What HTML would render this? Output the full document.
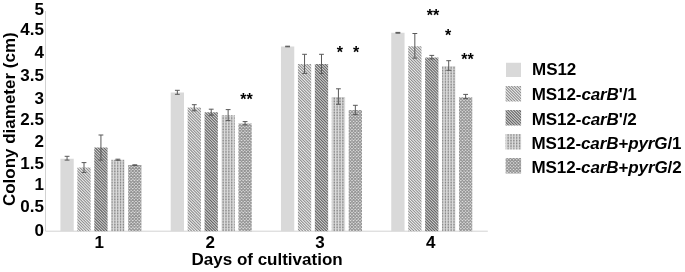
<!DOCTYPE html>
<html lang="en"><head><meta charset="utf-8"><title>Colony diameter chart</title>
<style>
html,body{margin:0;padding:0;background:#fff;}
body{width:685px;height:272px;overflow:hidden;}
svg{display:block;}
text{font-family:"Liberation Sans",sans-serif;font-weight:bold;fill:#000;}
.i{font-style:italic;}
</style></head><body>
<svg width="685" height="272" viewBox="0 0 685 272">
<defs>
<clipPath id="c2"><path d="M77.35,167.4h13.3v63.8h-13.3zM187.63,107.6h13.3v123.6h-13.3zM297.91,64.1h13.3v167.1h-13.3zM408.19,46.3h13.3v184.9h-13.3zM505.6,86.1h15.5v15.5h-15.5z"/></clipPath>
<clipPath id="c3"><path d="M94.28,147.6h13.3v83.6h-13.3zM204.56,112.3h13.3v118.9h-13.3zM314.84,64.1h13.3v167.1h-13.3zM425.12,57.4h13.3v173.8h-13.3zM505.6,110.1h15.5v15.5h-15.5z"/></clipPath>
<clipPath id="c4"><path d="M111.21,159.7h13.3v71.5h-13.3zM221.49,115.2h13.3v116h-13.3zM331.77,96.9h13.3v134.3h-13.3zM442.05,66.2h13.3v165h-13.3zM505.6,134.1h15.5v15.5h-15.5z"/></clipPath>
<clipPath id="c5"><path d="M128.14,165.1h13.3v66.1h-13.3zM238.42,123.5h13.3v107.7h-13.3zM348.7,109.9h13.3v121.3h-13.3zM458.98,97.2h13.3v134h-13.3zM505.6,158.1h15.5v15.5h-15.5z"/></clipPath>
<filter id="bl" x="0" y="0" width="1" height="1" filterUnits="objectBoundingBox"><feGaussianBlur stdDeviation="0.5"/></filter>
</defs>
<rect width="685" height="272" fill="#fff"/>

<path d="M45.5,11V231.2H487.8" fill="none" stroke="#d2d2d2" stroke-width="1"/>
<path d="M60.42,158.7h13.3v72.5h-13.3zM170.7,92.5h13.3v138.7h-13.3zM280.98,46.5h13.3v184.7h-13.3zM391.26,32.8h13.3v198.4h-13.3zM506,62.8h15v14.3h-15z" fill="#d9d9d9"/>
<g clip-path="url(#c2)" filter="url(#bl)"><rect x="55" y="28" width="470" height="206" fill="#f2f2f2"/><path d="M-153.85,28l206,206M-151,28l206,206M-148.15,28l206,206M-145.3,28l206,206M-142.45,28l206,206M-139.6,28l206,206M-136.75,28l206,206M-133.9,28l206,206M-131.05,28l206,206M-128.2,28l206,206M-125.35,28l206,206M-122.5,28l206,206M-119.65,28l206,206M-116.8,28l206,206M-113.95,28l206,206M-111.1,28l206,206M-108.25,28l206,206M-105.4,28l206,206M-102.55,28l206,206M-99.7,28l206,206M-96.85,28l206,206M-94,28l206,206M-91.15,28l206,206M-88.3,28l206,206M-85.45,28l206,206M-82.6,28l206,206M-79.75,28l206,206M-76.9,28l206,206M-74.05,28l206,206M-71.2,28l206,206M-68.35,28l206,206M-65.5,28l206,206M-62.65,28l206,206M-59.8,28l206,206M-56.95,28l206,206M-54.1,28l206,206M-51.25,28l206,206M-48.4,28l206,206M-45.55,28l206,206M-42.7,28l206,206M-39.85,28l206,206M-37,28l206,206M-34.15,28l206,206M-31.3,28l206,206M-28.45,28l206,206M-25.6,28l206,206M-22.75,28l206,206M-19.9,28l206,206M-17.05,28l206,206M-14.2,28l206,206M-11.35,28l206,206M-8.5,28l206,206M-5.65,28l206,206M-2.8,28l206,206M0.05,28l206,206M2.9,28l206,206M5.75,28l206,206M8.6,28l206,206M11.45,28l206,206M14.3,28l206,206M17.15,28l206,206M20,28l206,206M22.85,28l206,206M25.7,28l206,206M28.55,28l206,206M31.4,28l206,206M34.25,28l206,206M37.1,28l206,206M39.95,28l206,206M42.8,28l206,206M45.65,28l206,206M48.5,28l206,206M51.35,28l206,206M54.2,28l206,206M57.05,28l206,206M59.9,28l206,206M62.75,28l206,206M65.6,28l206,206M68.45,28l206,206M71.3,28l206,206M74.15,28l206,206M77,28l206,206M79.85,28l206,206M82.7,28l206,206M85.55,28l206,206M88.4,28l206,206M91.25,28l206,206M94.1,28l206,206M96.95,28l206,206M99.8,28l206,206M102.65,28l206,206M105.5,28l206,206M108.35,28l206,206M111.2,28l206,206M114.05,28l206,206M116.9,28l206,206M119.75,28l206,206M122.6,28l206,206M125.45,28l206,206M128.3,28l206,206M131.15,28l206,206M134,28l206,206M136.85,28l206,206M139.7,28l206,206M142.55,28l206,206M145.4,28l206,206M148.25,28l206,206M151.1,28l206,206M153.95,28l206,206M156.8,28l206,206M159.65,28l206,206M162.5,28l206,206M165.35,28l206,206M168.2,28l206,206M171.05,28l206,206M173.9,28l206,206M176.75,28l206,206M179.6,28l206,206M182.45,28l206,206M185.3,28l206,206M188.15,28l206,206M191,28l206,206M193.85,28l206,206M196.7,28l206,206M199.55,28l206,206M202.4,28l206,206M205.25,28l206,206M208.1,28l206,206M210.95,28l206,206M213.8,28l206,206M216.65,28l206,206M219.5,28l206,206M222.35,28l206,206M225.2,28l206,206M228.05,28l206,206M230.9,28l206,206M233.75,28l206,206M236.6,28l206,206M239.45,28l206,206M242.3,28l206,206M245.15,28l206,206M248,28l206,206M250.85,28l206,206M253.7,28l206,206M256.55,28l206,206M259.4,28l206,206M262.25,28l206,206M265.1,28l206,206M267.95,28l206,206M270.8,28l206,206M273.65,28l206,206M276.5,28l206,206M279.35,28l206,206M282.2,28l206,206M285.05,28l206,206M287.9,28l206,206M290.75,28l206,206M293.6,28l206,206M296.45,28l206,206M299.3,28l206,206M302.15,28l206,206M305,28l206,206M307.85,28l206,206M310.7,28l206,206M313.55,28l206,206M316.4,28l206,206M319.25,28l206,206M322.1,28l206,206M324.95,28l206,206M327.8,28l206,206M330.65,28l206,206M333.5,28l206,206M336.35,28l206,206M339.2,28l206,206M342.05,28l206,206M344.9,28l206,206M347.75,28l206,206M350.6,28l206,206M353.45,28l206,206M356.3,28l206,206M359.15,28l206,206M362,28l206,206M364.85,28l206,206M367.7,28l206,206M370.55,28l206,206M373.4,28l206,206M376.25,28l206,206M379.1,28l206,206M381.95,28l206,206M384.8,28l206,206M387.65,28l206,206M390.5,28l206,206M393.35,28l206,206M396.2,28l206,206M399.05,28l206,206M401.9,28l206,206M404.75,28l206,206M407.6,28l206,206M410.45,28l206,206M413.3,28l206,206M416.15,28l206,206M419,28l206,206M421.85,28l206,206M424.7,28l206,206M427.55,28l206,206M430.4,28l206,206M433.25,28l206,206M436.1,28l206,206M438.95,28l206,206M441.8,28l206,206M444.65,28l206,206M447.5,28l206,206M450.35,28l206,206M453.2,28l206,206M456.05,28l206,206M458.9,28l206,206M461.75,28l206,206M464.6,28l206,206M467.45,28l206,206M470.3,28l206,206M473.15,28l206,206M476,28l206,206M478.85,28l206,206M481.7,28l206,206M484.55,28l206,206M487.4,28l206,206M490.25,28l206,206M493.1,28l206,206M495.95,28l206,206M498.8,28l206,206M501.65,28l206,206M504.5,28l206,206M507.35,28l206,206M510.2,28l206,206M513.05,28l206,206M515.9,28l206,206M518.75,28l206,206M521.6,28l206,206M524.45,28l206,206M527.3,28l206,206" stroke="#8a8a8a" stroke-width="1.05" fill="none"/></g>
<g clip-path="url(#c3)" filter="url(#bl)"><rect x="55" y="28" width="470" height="206" fill="#dedede"/><path d="M-152.85,28l206,206M-150,28l206,206M-147.15,28l206,206M-144.3,28l206,206M-141.45,28l206,206M-138.6,28l206,206M-135.75,28l206,206M-132.9,28l206,206M-130.05,28l206,206M-127.2,28l206,206M-124.35,28l206,206M-121.5,28l206,206M-118.65,28l206,206M-115.8,28l206,206M-112.95,28l206,206M-110.1,28l206,206M-107.25,28l206,206M-104.4,28l206,206M-101.55,28l206,206M-98.7,28l206,206M-95.85,28l206,206M-93,28l206,206M-90.15,28l206,206M-87.3,28l206,206M-84.45,28l206,206M-81.6,28l206,206M-78.75,28l206,206M-75.9,28l206,206M-73.05,28l206,206M-70.2,28l206,206M-67.35,28l206,206M-64.5,28l206,206M-61.65,28l206,206M-58.8,28l206,206M-55.95,28l206,206M-53.1,28l206,206M-50.25,28l206,206M-47.4,28l206,206M-44.55,28l206,206M-41.7,28l206,206M-38.85,28l206,206M-36,28l206,206M-33.15,28l206,206M-30.3,28l206,206M-27.45,28l206,206M-24.6,28l206,206M-21.75,28l206,206M-18.9,28l206,206M-16.05,28l206,206M-13.2,28l206,206M-10.35,28l206,206M-7.5,28l206,206M-4.65,28l206,206M-1.8,28l206,206M1.05,28l206,206M3.9,28l206,206M6.75,28l206,206M9.6,28l206,206M12.45,28l206,206M15.3,28l206,206M18.15,28l206,206M21,28l206,206M23.85,28l206,206M26.7,28l206,206M29.55,28l206,206M32.4,28l206,206M35.25,28l206,206M38.1,28l206,206M40.95,28l206,206M43.8,28l206,206M46.65,28l206,206M49.5,28l206,206M52.35,28l206,206M55.2,28l206,206M58.05,28l206,206M60.9,28l206,206M63.75,28l206,206M66.6,28l206,206M69.45,28l206,206M72.3,28l206,206M75.15,28l206,206M78,28l206,206M80.85,28l206,206M83.7,28l206,206M86.55,28l206,206M89.4,28l206,206M92.25,28l206,206M95.1,28l206,206M97.95,28l206,206M100.8,28l206,206M103.65,28l206,206M106.5,28l206,206M109.35,28l206,206M112.2,28l206,206M115.05,28l206,206M117.9,28l206,206M120.75,28l206,206M123.6,28l206,206M126.45,28l206,206M129.3,28l206,206M132.15,28l206,206M135,28l206,206M137.85,28l206,206M140.7,28l206,206M143.55,28l206,206M146.4,28l206,206M149.25,28l206,206M152.1,28l206,206M154.95,28l206,206M157.8,28l206,206M160.65,28l206,206M163.5,28l206,206M166.35,28l206,206M169.2,28l206,206M172.05,28l206,206M174.9,28l206,206M177.75,28l206,206M180.6,28l206,206M183.45,28l206,206M186.3,28l206,206M189.15,28l206,206M192,28l206,206M194.85,28l206,206M197.7,28l206,206M200.55,28l206,206M203.4,28l206,206M206.25,28l206,206M209.1,28l206,206M211.95,28l206,206M214.8,28l206,206M217.65,28l206,206M220.5,28l206,206M223.35,28l206,206M226.2,28l206,206M229.05,28l206,206M231.9,28l206,206M234.75,28l206,206M237.6,28l206,206M240.45,28l206,206M243.3,28l206,206M246.15,28l206,206M249,28l206,206M251.85,28l206,206M254.7,28l206,206M257.55,28l206,206M260.4,28l206,206M263.25,28l206,206M266.1,28l206,206M268.95,28l206,206M271.8,28l206,206M274.65,28l206,206M277.5,28l206,206M280.35,28l206,206M283.2,28l206,206M286.05,28l206,206M288.9,28l206,206M291.75,28l206,206M294.6,28l206,206M297.45,28l206,206M300.3,28l206,206M303.15,28l206,206M306,28l206,206M308.85,28l206,206M311.7,28l206,206M314.55,28l206,206M317.4,28l206,206M320.25,28l206,206M323.1,28l206,206M325.95,28l206,206M328.8,28l206,206M331.65,28l206,206M334.5,28l206,206M337.35,28l206,206M340.2,28l206,206M343.05,28l206,206M345.9,28l206,206M348.75,28l206,206M351.6,28l206,206M354.45,28l206,206M357.3,28l206,206M360.15,28l206,206M363,28l206,206M365.85,28l206,206M368.7,28l206,206M371.55,28l206,206M374.4,28l206,206M377.25,28l206,206M380.1,28l206,206M382.95,28l206,206M385.8,28l206,206M388.65,28l206,206M391.5,28l206,206M394.35,28l206,206M397.2,28l206,206M400.05,28l206,206M402.9,28l206,206M405.75,28l206,206M408.6,28l206,206M411.45,28l206,206M414.3,28l206,206M417.15,28l206,206M420,28l206,206M422.85,28l206,206M425.7,28l206,206M428.55,28l206,206M431.4,28l206,206M434.25,28l206,206M437.1,28l206,206M439.95,28l206,206M442.8,28l206,206M445.65,28l206,206M448.5,28l206,206M451.35,28l206,206M454.2,28l206,206M457.05,28l206,206M459.9,28l206,206M462.75,28l206,206M465.6,28l206,206M468.45,28l206,206M471.3,28l206,206M474.15,28l206,206M477,28l206,206M479.85,28l206,206M482.7,28l206,206M485.55,28l206,206M488.4,28l206,206M491.25,28l206,206M494.1,28l206,206M496.95,28l206,206M499.8,28l206,206M502.65,28l206,206M505.5,28l206,206M508.35,28l206,206M511.2,28l206,206M514.05,28l206,206M516.9,28l206,206M519.75,28l206,206M522.6,28l206,206M525.45,28l206,206" stroke="#646464" stroke-width="1.1" fill="none"/></g>
<g clip-path="url(#c4)" filter="url(#bl)"><rect x="55" y="28" width="470" height="206" fill="#dadada"/><path d="M55,28V234M57.85,28V234M60.7,28V234M63.55,28V234M66.4,28V234M69.25,28V234M72.1,28V234M74.95,28V234M77.8,28V234M80.65,28V234M83.5,28V234M86.35,28V234M89.2,28V234M92.05,28V234M94.9,28V234M97.75,28V234M100.6,28V234M103.45,28V234M106.3,28V234M109.15,28V234M112,28V234M114.85,28V234M117.7,28V234M120.55,28V234M123.4,28V234M126.25,28V234M129.1,28V234M131.95,28V234M134.8,28V234M137.65,28V234M140.5,28V234M143.35,28V234M146.2,28V234M149.05,28V234M151.9,28V234M154.75,28V234M157.6,28V234M160.45,28V234M163.3,28V234M166.15,28V234M169,28V234M171.85,28V234M174.7,28V234M177.55,28V234M180.4,28V234M183.25,28V234M186.1,28V234M188.95,28V234M191.8,28V234M194.65,28V234M197.5,28V234M200.35,28V234M203.2,28V234M206.05,28V234M208.9,28V234M211.75,28V234M214.6,28V234M217.45,28V234M220.3,28V234M223.15,28V234M226,28V234M228.85,28V234M231.7,28V234M234.55,28V234M237.4,28V234M240.25,28V234M243.1,28V234M245.95,28V234M248.8,28V234M251.65,28V234M254.5,28V234M257.35,28V234M260.2,28V234M263.05,28V234M265.9,28V234M268.75,28V234M271.6,28V234M274.45,28V234M277.3,28V234M280.15,28V234M283,28V234M285.85,28V234M288.7,28V234M291.55,28V234M294.4,28V234M297.25,28V234M300.1,28V234M302.95,28V234M305.8,28V234M308.65,28V234M311.5,28V234M314.35,28V234M317.2,28V234M320.05,28V234M322.9,28V234M325.75,28V234M328.6,28V234M331.45,28V234M334.3,28V234M337.15,28V234M340,28V234M342.85,28V234M345.7,28V234M348.55,28V234M351.4,28V234M354.25,28V234M357.1,28V234M359.95,28V234M362.8,28V234M365.65,28V234M368.5,28V234M371.35,28V234M374.2,28V234M377.05,28V234M379.9,28V234M382.75,28V234M385.6,28V234M388.45,28V234M391.3,28V234M394.15,28V234M397,28V234M399.85,28V234M402.7,28V234M405.55,28V234M408.4,28V234M411.25,28V234M414.1,28V234M416.95,28V234M419.8,28V234M422.65,28V234M425.5,28V234M428.35,28V234M431.2,28V234M434.05,28V234M436.9,28V234M439.75,28V234M442.6,28V234M445.45,28V234M448.3,28V234M451.15,28V234M454,28V234M456.85,28V234M459.7,28V234M462.55,28V234M465.4,28V234M468.25,28V234M471.1,28V234M473.95,28V234M476.8,28V234M479.65,28V234M482.5,28V234M485.35,28V234M488.2,28V234M491.05,28V234M493.9,28V234M496.75,28V234M499.6,28V234M502.45,28V234M505.3,28V234M508.15,28V234M511,28V234M513.85,28V234M516.7,28V234M519.55,28V234M522.4,28V234" stroke="#b9b9b9" stroke-width="1.3" fill="none"/><path d="M55,28V234M57.85,28V234M60.7,28V234M63.55,28V234M66.4,28V234M69.25,28V234M72.1,28V234M74.95,28V234M77.8,28V234M80.65,28V234M83.5,28V234M86.35,28V234M89.2,28V234M92.05,28V234M94.9,28V234M97.75,28V234M100.6,28V234M103.45,28V234M106.3,28V234M109.15,28V234M112,28V234M114.85,28V234M117.7,28V234M120.55,28V234M123.4,28V234M126.25,28V234M129.1,28V234M131.95,28V234M134.8,28V234M137.65,28V234M140.5,28V234M143.35,28V234M146.2,28V234M149.05,28V234M151.9,28V234M154.75,28V234M157.6,28V234M160.45,28V234M163.3,28V234M166.15,28V234M169,28V234M171.85,28V234M174.7,28V234M177.55,28V234M180.4,28V234M183.25,28V234M186.1,28V234M188.95,28V234M191.8,28V234M194.65,28V234M197.5,28V234M200.35,28V234M203.2,28V234M206.05,28V234M208.9,28V234M211.75,28V234M214.6,28V234M217.45,28V234M220.3,28V234M223.15,28V234M226,28V234M228.85,28V234M231.7,28V234M234.55,28V234M237.4,28V234M240.25,28V234M243.1,28V234M245.95,28V234M248.8,28V234M251.65,28V234M254.5,28V234M257.35,28V234M260.2,28V234M263.05,28V234M265.9,28V234M268.75,28V234M271.6,28V234M274.45,28V234M277.3,28V234M280.15,28V234M283,28V234M285.85,28V234M288.7,28V234M291.55,28V234M294.4,28V234M297.25,28V234M300.1,28V234M302.95,28V234M305.8,28V234M308.65,28V234M311.5,28V234M314.35,28V234M317.2,28V234M320.05,28V234M322.9,28V234M325.75,28V234M328.6,28V234M331.45,28V234M334.3,28V234M337.15,28V234M340,28V234M342.85,28V234M345.7,28V234M348.55,28V234M351.4,28V234M354.25,28V234M357.1,28V234M359.95,28V234M362.8,28V234M365.65,28V234M368.5,28V234M371.35,28V234M374.2,28V234M377.05,28V234M379.9,28V234M382.75,28V234M385.6,28V234M388.45,28V234M391.3,28V234M394.15,28V234M397,28V234M399.85,28V234M402.7,28V234M405.55,28V234M408.4,28V234M411.25,28V234M414.1,28V234M416.95,28V234M419.8,28V234M422.65,28V234M425.5,28V234M428.35,28V234M431.2,28V234M434.05,28V234M436.9,28V234M439.75,28V234M442.6,28V234M445.45,28V234M448.3,28V234M451.15,28V234M454,28V234M456.85,28V234M459.7,28V234M462.55,28V234M465.4,28V234M468.25,28V234M471.1,28V234M473.95,28V234M476.8,28V234M479.65,28V234M482.5,28V234M485.35,28V234M488.2,28V234M491.05,28V234M493.9,28V234M496.75,28V234M499.6,28V234M502.45,28V234M505.3,28V234M508.15,28V234M511,28V234M513.85,28V234M516.7,28V234M519.55,28V234M522.4,28V234" stroke="#878787" stroke-width="1.2" stroke-dasharray="1.2 1.6" fill="none"/></g>
<g clip-path="url(#c5)" filter="url(#bl)"><rect x="55" y="28" width="470" height="206" fill="#e2e2e2"/><path d="M-154.2,28l206,206M-151,28l206,206M-147.8,28l206,206M-144.6,28l206,206M-141.4,28l206,206M-138.2,28l206,206M-135,28l206,206M-131.8,28l206,206M-128.6,28l206,206M-125.4,28l206,206M-122.2,28l206,206M-119,28l206,206M-115.8,28l206,206M-112.6,28l206,206M-109.4,28l206,206M-106.2,28l206,206M-103,28l206,206M-99.8,28l206,206M-96.6,28l206,206M-93.4,28l206,206M-90.2,28l206,206M-87,28l206,206M-83.8,28l206,206M-80.6,28l206,206M-77.4,28l206,206M-74.2,28l206,206M-71,28l206,206M-67.8,28l206,206M-64.6,28l206,206M-61.4,28l206,206M-58.2,28l206,206M-55,28l206,206M-51.8,28l206,206M-48.6,28l206,206M-45.4,28l206,206M-42.2,28l206,206M-39,28l206,206M-35.8,28l206,206M-32.6,28l206,206M-29.4,28l206,206M-26.2,28l206,206M-23,28l206,206M-19.8,28l206,206M-16.6,28l206,206M-13.4,28l206,206M-10.2,28l206,206M-7,28l206,206M-3.8,28l206,206M-0.6,28l206,206M2.6,28l206,206M5.8,28l206,206M9,28l206,206M12.2,28l206,206M15.4,28l206,206M18.6,28l206,206M21.8,28l206,206M25,28l206,206M28.2,28l206,206M31.4,28l206,206M34.6,28l206,206M37.8,28l206,206M41,28l206,206M44.2,28l206,206M47.4,28l206,206M50.6,28l206,206M53.8,28l206,206M57,28l206,206M60.2,28l206,206M63.4,28l206,206M66.6,28l206,206M69.8,28l206,206M73,28l206,206M76.2,28l206,206M79.4,28l206,206M82.6,28l206,206M85.8,28l206,206M89,28l206,206M92.2,28l206,206M95.4,28l206,206M98.6,28l206,206M101.8,28l206,206M105,28l206,206M108.2,28l206,206M111.4,28l206,206M114.6,28l206,206M117.8,28l206,206M121,28l206,206M124.2,28l206,206M127.4,28l206,206M130.6,28l206,206M133.8,28l206,206M137,28l206,206M140.2,28l206,206M143.4,28l206,206M146.6,28l206,206M149.8,28l206,206M153,28l206,206M156.2,28l206,206M159.4,28l206,206M162.6,28l206,206M165.8,28l206,206M169,28l206,206M172.2,28l206,206M175.4,28l206,206M178.6,28l206,206M181.8,28l206,206M185,28l206,206M188.2,28l206,206M191.4,28l206,206M194.6,28l206,206M197.8,28l206,206M201,28l206,206M204.2,28l206,206M207.4,28l206,206M210.6,28l206,206M213.8,28l206,206M217,28l206,206M220.2,28l206,206M223.4,28l206,206M226.6,28l206,206M229.8,28l206,206M233,28l206,206M236.2,28l206,206M239.4,28l206,206M242.6,28l206,206M245.8,28l206,206M249,28l206,206M252.2,28l206,206M255.4,28l206,206M258.6,28l206,206M261.8,28l206,206M265,28l206,206M268.2,28l206,206M271.4,28l206,206M274.6,28l206,206M277.8,28l206,206M281,28l206,206M284.2,28l206,206M287.4,28l206,206M290.6,28l206,206M293.8,28l206,206M297,28l206,206M300.2,28l206,206M303.4,28l206,206M306.6,28l206,206M309.8,28l206,206M313,28l206,206M316.2,28l206,206M319.4,28l206,206M322.6,28l206,206M325.8,28l206,206M329,28l206,206M332.2,28l206,206M335.4,28l206,206M338.6,28l206,206M341.8,28l206,206M345,28l206,206M348.2,28l206,206M351.4,28l206,206M354.6,28l206,206M357.8,28l206,206M361,28l206,206M364.2,28l206,206M367.4,28l206,206M370.6,28l206,206M373.8,28l206,206M377,28l206,206M380.2,28l206,206M383.4,28l206,206M386.6,28l206,206M389.8,28l206,206M393,28l206,206M396.2,28l206,206M399.4,28l206,206M402.6,28l206,206M405.8,28l206,206M409,28l206,206M412.2,28l206,206M415.4,28l206,206M418.6,28l206,206M421.8,28l206,206M425,28l206,206M428.2,28l206,206M431.4,28l206,206M434.6,28l206,206M437.8,28l206,206M441,28l206,206M444.2,28l206,206M447.4,28l206,206M450.6,28l206,206M453.8,28l206,206M457,28l206,206M460.2,28l206,206M463.4,28l206,206M466.6,28l206,206M469.8,28l206,206M473,28l206,206M476.2,28l206,206M479.4,28l206,206M482.6,28l206,206M485.8,28l206,206M489,28l206,206M492.2,28l206,206M495.4,28l206,206M498.6,28l206,206M501.8,28l206,206M505,28l206,206M508.2,28l206,206M511.4,28l206,206M514.6,28l206,206M517.8,28l206,206M521,28l206,206M524.2,28l206,206M527.4,28l206,206M51.8,28l-206,206M55,28l-206,206M58.2,28l-206,206M61.4,28l-206,206M64.6,28l-206,206M67.8,28l-206,206M71,28l-206,206M74.2,28l-206,206M77.4,28l-206,206M80.6,28l-206,206M83.8,28l-206,206M87,28l-206,206M90.2,28l-206,206M93.4,28l-206,206M96.6,28l-206,206M99.8,28l-206,206M103,28l-206,206M106.2,28l-206,206M109.4,28l-206,206M112.6,28l-206,206M115.8,28l-206,206M119,28l-206,206M122.2,28l-206,206M125.4,28l-206,206M128.6,28l-206,206M131.8,28l-206,206M135,28l-206,206M138.2,28l-206,206M141.4,28l-206,206M144.6,28l-206,206M147.8,28l-206,206M151,28l-206,206M154.2,28l-206,206M157.4,28l-206,206M160.6,28l-206,206M163.8,28l-206,206M167,28l-206,206M170.2,28l-206,206M173.4,28l-206,206M176.6,28l-206,206M179.8,28l-206,206M183,28l-206,206M186.2,28l-206,206M189.4,28l-206,206M192.6,28l-206,206M195.8,28l-206,206M199,28l-206,206M202.2,28l-206,206M205.4,28l-206,206M208.6,28l-206,206M211.8,28l-206,206M215,28l-206,206M218.2,28l-206,206M221.4,28l-206,206M224.6,28l-206,206M227.8,28l-206,206M231,28l-206,206M234.2,28l-206,206M237.4,28l-206,206M240.6,28l-206,206M243.8,28l-206,206M247,28l-206,206M250.2,28l-206,206M253.4,28l-206,206M256.6,28l-206,206M259.8,28l-206,206M263,28l-206,206M266.2,28l-206,206M269.4,28l-206,206M272.6,28l-206,206M275.8,28l-206,206M279,28l-206,206M282.2,28l-206,206M285.4,28l-206,206M288.6,28l-206,206M291.8,28l-206,206M295,28l-206,206M298.2,28l-206,206M301.4,28l-206,206M304.6,28l-206,206M307.8,28l-206,206M311,28l-206,206M314.2,28l-206,206M317.4,28l-206,206M320.6,28l-206,206M323.8,28l-206,206M327,28l-206,206M330.2,28l-206,206M333.4,28l-206,206M336.6,28l-206,206M339.8,28l-206,206M343,28l-206,206M346.2,28l-206,206M349.4,28l-206,206M352.6,28l-206,206M355.8,28l-206,206M359,28l-206,206M362.2,28l-206,206M365.4,28l-206,206M368.6,28l-206,206M371.8,28l-206,206M375,28l-206,206M378.2,28l-206,206M381.4,28l-206,206M384.6,28l-206,206M387.8,28l-206,206M391,28l-206,206M394.2,28l-206,206M397.4,28l-206,206M400.6,28l-206,206M403.8,28l-206,206M407,28l-206,206M410.2,28l-206,206M413.4,28l-206,206M416.6,28l-206,206M419.8,28l-206,206M423,28l-206,206M426.2,28l-206,206M429.4,28l-206,206M432.6,28l-206,206M435.8,28l-206,206M439,28l-206,206M442.2,28l-206,206M445.4,28l-206,206M448.6,28l-206,206M451.8,28l-206,206M455,28l-206,206M458.2,28l-206,206M461.4,28l-206,206M464.6,28l-206,206M467.8,28l-206,206M471,28l-206,206M474.2,28l-206,206M477.4,28l-206,206M480.6,28l-206,206M483.8,28l-206,206M487,28l-206,206M490.2,28l-206,206M493.4,28l-206,206M496.6,28l-206,206M499.8,28l-206,206M503,28l-206,206M506.2,28l-206,206M509.4,28l-206,206M512.6,28l-206,206M515.8,28l-206,206M519,28l-206,206M522.2,28l-206,206M525.4,28l-206,206M528.6,28l-206,206M531.8,28l-206,206M535,28l-206,206M538.2,28l-206,206M541.4,28l-206,206M544.6,28l-206,206M547.8,28l-206,206M551,28l-206,206M554.2,28l-206,206M557.4,28l-206,206M560.6,28l-206,206M563.8,28l-206,206M567,28l-206,206M570.2,28l-206,206M573.4,28l-206,206M576.6,28l-206,206M579.8,28l-206,206M583,28l-206,206M586.2,28l-206,206M589.4,28l-206,206M592.6,28l-206,206M595.8,28l-206,206M599,28l-206,206M602.2,28l-206,206M605.4,28l-206,206M608.6,28l-206,206M611.8,28l-206,206M615,28l-206,206M618.2,28l-206,206M621.4,28l-206,206M624.6,28l-206,206M627.8,28l-206,206M631,28l-206,206M634.2,28l-206,206M637.4,28l-206,206M640.6,28l-206,206M643.8,28l-206,206M647,28l-206,206M650.2,28l-206,206M653.4,28l-206,206M656.6,28l-206,206M659.8,28l-206,206M663,28l-206,206M666.2,28l-206,206M669.4,28l-206,206M672.6,28l-206,206M675.8,28l-206,206M679,28l-206,206M682.2,28l-206,206M685.4,28l-206,206M688.6,28l-206,206M691.8,28l-206,206M695,28l-206,206M698.2,28l-206,206M701.4,28l-206,206M704.6,28l-206,206M707.8,28l-206,206M711,28l-206,206M714.2,28l-206,206M717.4,28l-206,206M720.6,28l-206,206M723.8,28l-206,206M727,28l-206,206M730.2,28l-206,206M733.4,28l-206,206" stroke="#949494" stroke-width="1.05" fill="none"/></g>
<path d="M67.07,156.3V160.1M64.67,156.3h4.8M64.67,160.1h4.8" stroke="#595959" stroke-width="1" fill="none"/>
<path d="M84,162.6V172.4M81.6,162.6h4.8M81.6,172.4h4.8" stroke="#595959" stroke-width="1" fill="none"/>
<path d="M100.93,135V160.1M98.53,135h4.8M98.53,160.1h4.8" stroke="#595959" stroke-width="1" fill="none"/>
<path d="M117.86,159.2V160.3M115.46,159.2h4.8M115.46,160.3h4.8" stroke="#595959" stroke-width="1" fill="none"/>
<path d="M134.79,164.8V165.5M132.39,164.8h4.8M132.39,165.5h4.8" stroke="#595959" stroke-width="1" fill="none"/>
<path d="M177.35,90.3V94.3M174.95,90.3h4.8M174.95,94.3h4.8" stroke="#595959" stroke-width="1" fill="none"/>
<path d="M194.28,104.7V110.8M191.88,104.7h4.8M191.88,110.8h4.8" stroke="#595959" stroke-width="1" fill="none"/>
<path d="M211.21,109.2V115.2M208.81,109.2h4.8M208.81,115.2h4.8" stroke="#595959" stroke-width="1" fill="none"/>
<path d="M228.14,109.6V120.6M225.74,109.6h4.8M225.74,120.6h4.8" stroke="#595959" stroke-width="1" fill="none"/>
<path d="M245.07,121.6V124.8M242.67,121.6h4.8M242.67,124.8h4.8" stroke="#595959" stroke-width="1" fill="none"/>
<path d="M287.63,46.2V46.8M285.23,46.2h4.8M285.23,46.8h4.8" stroke="#595959" stroke-width="1" fill="none"/>
<path d="M304.56,54.3V73.4M302.16,54.3h4.8M302.16,73.4h4.8" stroke="#595959" stroke-width="1" fill="none"/>
<path d="M321.49,54.3V73.4M319.09,54.3h4.8M319.09,73.4h4.8" stroke="#595959" stroke-width="1" fill="none"/>
<path d="M338.42,88.8V104.3M336.02,88.8h4.8M336.02,104.3h4.8" stroke="#595959" stroke-width="1" fill="none"/>
<path d="M355.35,105.3V114.6M352.95,105.3h4.8M352.95,114.6h4.8" stroke="#595959" stroke-width="1" fill="none"/>
<path d="M397.91,32.4V33.2M395.51,32.4h4.8M395.51,33.2h4.8" stroke="#595959" stroke-width="1" fill="none"/>
<path d="M414.84,33.5V58.1M412.44,33.5h4.8M412.44,58.1h4.8" stroke="#595959" stroke-width="1" fill="none"/>
<path d="M431.77,55.4V58.9M429.37,55.4h4.8M429.37,58.9h4.8" stroke="#595959" stroke-width="1" fill="none"/>
<path d="M448.7,60.7V70.3M446.3,60.7h4.8M446.3,70.3h4.8" stroke="#595959" stroke-width="1" fill="none"/>
<path d="M465.63,94.4V98.6M463.23,94.4h4.8M463.23,98.6h4.8" stroke="#595959" stroke-width="1" fill="none"/>
<text x="43.9" y="235.90" font-size="17" text-anchor="end">0</text>
<text x="43.9" y="211.90" font-size="17" text-anchor="end">0.5</text>
<text x="43.9" y="189.90" font-size="17" text-anchor="end">1</text>
<text x="43.9" y="168.80" font-size="17" text-anchor="end">1.5</text>
<text x="43.9" y="146.80" font-size="17" text-anchor="end">2</text>
<text x="43.9" y="124.65" font-size="17" text-anchor="end">2.5</text>
<text x="43.9" y="103.95" font-size="17" text-anchor="end">3</text>
<text x="43.9" y="80.85" font-size="17" text-anchor="end">3.5</text>
<text x="43.9" y="58.10" font-size="17" text-anchor="end">4</text>
<text x="43.9" y="34.85" font-size="17" text-anchor="end">4.5</text>
<text x="43.9" y="14.85" font-size="17" text-anchor="end">5</text>
<text x="99.2" y="247.6" font-size="17" text-anchor="middle">1</text>
<text x="210.2" y="247.6" font-size="17" text-anchor="middle">2</text>
<text x="319.9" y="247.6" font-size="17" text-anchor="middle">3</text>
<text x="430.8" y="247.6" font-size="17" text-anchor="middle">4</text>
<text x="267.1" y="264.8" font-size="17" text-anchor="middle">Days of cultivation</text>
<text transform="translate(15.1,119.2) rotate(-90)" font-size="17" text-anchor="middle">Colony diameter (cm)</text>
<text x="246.6" y="104.5" font-size="16" text-anchor="middle">**</text>
<text x="339.9" y="57.5" font-size="16" text-anchor="middle">*</text>
<text x="356.0" y="57.5" font-size="16" text-anchor="middle">*</text>
<text x="433.0" y="21" font-size="16" text-anchor="middle">**</text>
<text x="448.0" y="40.5" font-size="16" text-anchor="middle">*</text>
<text x="467.6" y="64.5" font-size="16" text-anchor="middle">**</text>
<text x="532.1" y="75.3" font-size="17" letter-spacing="-0.1">MS12</text>
<text x="531.8" y="100.4" font-size="17" letter-spacing="-0.1">MS12-<tspan class="i">carB</tspan>'/1</text>
<text x="531.8" y="124.6" font-size="17" letter-spacing="-0.1">MS12-<tspan class="i">carB</tspan>'/2</text>
<text x="531.4" y="149.3" font-size="17" letter-spacing="-0.1">MS12-<tspan class="i">carB</tspan>+<tspan class="i">pyrG</tspan>/1</text>
<text x="531.5" y="173.1" font-size="17" letter-spacing="-0.1">MS12-<tspan class="i">carB</tspan>+<tspan class="i">pyrG</tspan>/2</text>
</svg></body></html>
